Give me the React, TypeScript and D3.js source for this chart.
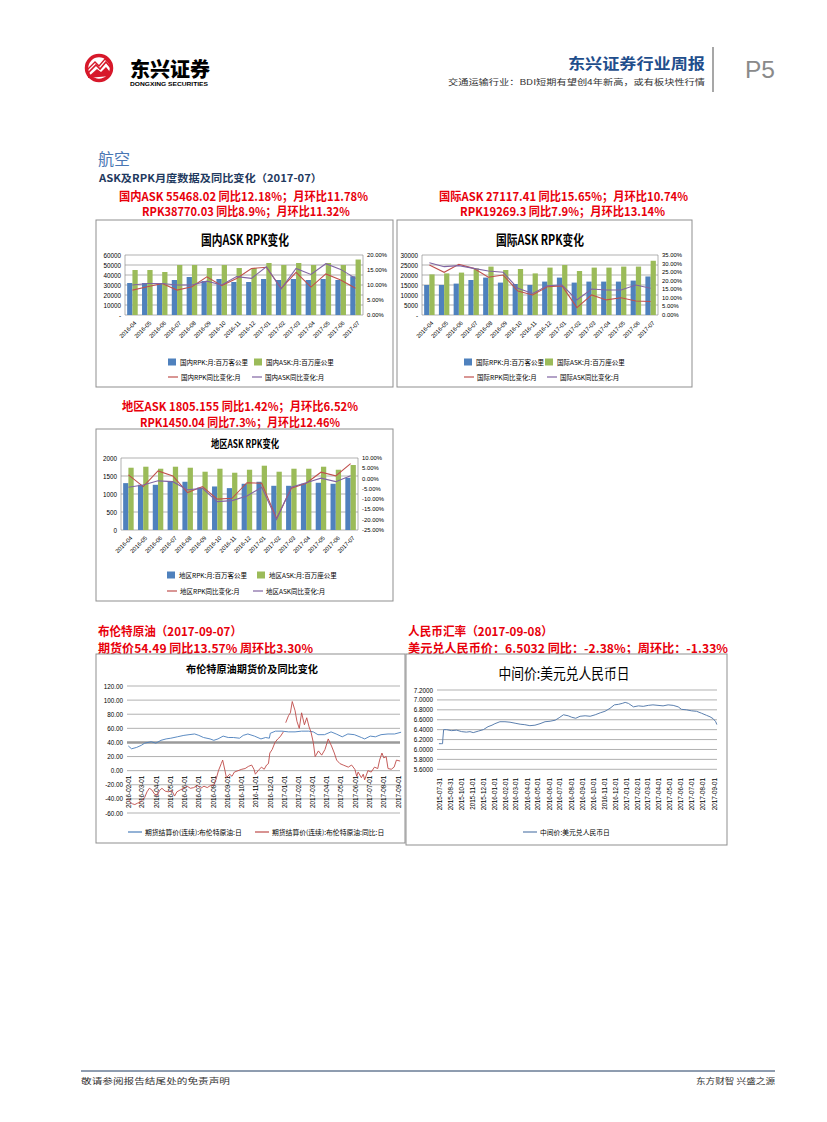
import React from 'react';
import * as d3 from 'd3';

// ---------- data ----------
const months = ['2016-04','2016-05','2016-06','2016-07','2016-08','2016-09','2016-10','2016-11','2016-12','2017-01','2017-02','2017-03','2017-04','2017-05','2017-06','2017-07'];

const domRpk = [32000,32000,32000,35000,38000,34000,36000,33000,33000,36000,35000,36000,35000,36000,35000,38770];
const domAsk = [45000,45000,43000,50000,50000,47000,50000,47000,47000,52000,50000,52000,50000,52000,50000,55468];
const domRpkYoy = [8.3,9.4,10.5,8.3,9.4,12.7,9.8,12.2,15.5,15.9,8.9,14.2,9.3,13.7,11.7,8.9];
const domAskYoy = [10.0,10.5,10.5,10.0,10.0,11.3,10.0,12.8,12.2,16.1,8.7,15.5,13.5,17.1,15.2,12.2];

const intlRpk = [15000,15000,15700,17500,18700,16200,15500,15000,16700,18700,16200,16700,16700,16700,17200,19269];
const intlAsk = [20300,20800,21200,23300,24200,22500,23000,20800,23700,25000,22000,23700,23700,24200,24200,27117];
const intlRpkYoy = [29.2,24.9,29.6,27.2,22.0,23.3,14.0,11.7,16.5,17.0,4.3,11.7,8.8,10.1,8.2,7.9];
const intlAskYoy = [30.5,28.2,28.8,27.2,25.7,24.9,15.6,12.6,17.1,17.5,8.8,15.2,14.6,14.6,17.5,15.65];

const regRpk = [1302,1256,1256,1349,1340,1181,1209,1163,1284,1340,1228,1228,1284,1312,1284,1450];
const regAsk = [1730,1758,1702,1758,1730,1619,1702,1591,1674,1786,1619,1702,1702,1758,1674,1805];
const regRpkYoy = [1.8,-3.9,3.7,1.3,-6.8,-3.9,-10.0,-9.6,-2.0,-2.3,-19.4,-4.7,-2.3,3.1,1.3,7.3];
const regAskYoy = [-4.2,-3.1,-1.1,-1.5,-5.5,-4.7,-11.2,-10.7,-8.5,-4.2,-19.9,-4.2,-2.0,0.2,-1.5,1.42];

const brentPrice: [string, number][] = [
  ['2016-02-01',35],['2016-02-08',31],['2016-02-19',33],['2016-02-29',36],['2016-03-07',39],['2016-03-21',41],
  ['2016-03-31',39],['2016-04-11',43],['2016-04-22',45],['2016-05-02',46],['2016-05-16',48],['2016-05-30',50],
  ['2016-06-10',51],['2016-06-22',52],['2016-07-01',50],['2016-07-11',47],['2016-07-25',45],['2016-08-02',43],
  ['2016-08-11',45],['2016-08-22',49],['2016-09-02',47],['2016-09-13',47],['2016-09-26',46],['2016-10-04',50],
  ['2016-10-14',52],['2016-10-28',49],['2016-11-11',45],['2016-11-21',47],['2016-11-29',46],['2016-12-01',53],
  ['2016-12-12',56],['2016-12-26',56],['2017-01-09',55],['2017-01-23',55],['2017-02-06',56],['2017-02-21',56],
  ['2017-03-03',55],['2017-03-13',51],['2017-03-27',51],['2017-04-10',55],['2017-04-21',52],['2017-05-04',48],
  ['2017-05-16',52],['2017-05-30',51],['2017-06-14',47],['2017-06-21',45],['2017-07-03',49],['2017-07-14',48],
  ['2017-07-26',51],['2017-08-10',52],['2017-08-24',52],['2017-09-07',54.49]
];

const brentYoy: [string, number | null][] = [
  ['2016-02-01',-40],['2016-02-05',-45],['2016-02-10',-47],['2016-02-15',-48],['2016-02-21',-46],['2016-02-26',-45],
  ['2016-03-02',-42],['2016-03-07',-38],['2016-03-12',-30],['2016-03-17',-25],['2016-03-22',-27],['2016-03-28',-33],
  ['2016-04-03',-35],['2016-04-08',-28],['2016-04-13',-25],['2016-04-20',-29],['2016-04-27',-30],['2016-05-04',-28],
  ['2016-05-10',-36],['2016-05-15',-30],['2016-05-23',-27],['2016-05-30',-25],['2016-06-06',-22],['2016-06-13',-25],
  ['2016-06-20',-24],['2016-06-28',-21],['2016-07-05',-25],['2016-07-12',-22],['2016-07-19',-24],['2016-07-26',-21],
  ['2016-08-02',-20],['2016-08-07',-12],['2016-08-12',0],['2016-08-18',10],['2016-08-21',15],['2016-08-26',0],
  ['2016-08-29',-10],['2016-09-05',-5],['2016-09-10',-8],['2016-09-15',-2],['2016-09-23',0],['2016-10-01',2],
  ['2016-10-08',3],['2016-10-15',6],['2016-10-22',8],['2016-10-27',2],['2016-10-30',-5],['2016-11-05',0],
  ['2016-11-12',5],['2016-11-18',2],['2016-11-23',8],['2016-11-27',10],['2016-11-30',25],['2016-12-05',30],
  ['2016-12-11',40],['2016-12-17',45],['2016-12-22',48],['2016-12-29',55],['2016-12-31',null],['2017-01-03',68],
  ['2017-01-09',78],['2017-01-13',82],['2017-01-17',98],['2017-01-23',85],['2017-01-27',70],['2017-02-01',60],
  ['2017-02-06',82],['2017-02-12',65],['2017-02-17',75],['2017-02-22',62],['2017-02-26',55],['2017-03-03',40],
  ['2017-03-07',20],['2017-03-14',28],['2017-03-21',22],['2017-03-28',30],['2017-04-04',45],['2017-04-11',35],
  ['2017-04-17',25],['2017-04-22',15],['2017-04-29',10],['2017-05-06',8],['2017-05-17',5],['2017-05-24',8],
  ['2017-05-31',2],['2017-06-04',-8],['2017-06-07',-2],['2017-06-14',-10],['2017-06-18',-5],['2017-06-21',-13],
  ['2017-06-28',0],['2017-07-05',-2],['2017-07-12',5],['2017-07-19',3],['2017-07-23',15],['2017-07-28',25],
  ['2017-08-01',18],['2017-08-06',20],['2017-08-10',3],['2017-08-17',2],['2017-08-23',5],['2017-08-28',15],
  ['2017-09-05',13.57]
];

const brentTickLabels = ['2016-02-01','2016-03-01','2016-04-01','2016-05-01','2016-06-01','2016-07-01','2016-08-01','2016-09-01','2016-10-01','2016-11-01','2016-12-01','2017-01-01','2017-02-01','2017-03-01','2017-04-01','2017-05-01','2017-06-01','2017-07-01','2017-08-01','2017-09-01'];
const brentYTicks = [120,100,80,60,40,20,0,-20,-40,-60];

const rmbMid: [string, number][] = [
  ['2015-07-31',6.117],['2015-08-08',6.117],['2015-08-10',6.117],['2015-08-11',6.23],['2015-08-13',6.40],['2015-08-21',6.40],
  ['2015-09-04',6.38],['2015-09-18',6.39],['2015-10-02',6.36],['2015-10-15',6.35],['2015-10-25',6.36],['2015-11-03',6.34],
  ['2015-11-17',6.37],['2015-12-01',6.40],['2015-12-14',6.46],['2015-12-25',6.49],['2016-01-02',6.52],['2016-01-16',6.56],
  ['2016-01-30',6.56],['2016-02-13',6.55],['2016-02-27',6.53],['2016-03-12',6.51],['2016-03-25',6.50],['2016-04-08',6.48],
  ['2016-04-22',6.49],['2016-05-06',6.52],['2016-05-20',6.56],['2016-06-03',6.57],['2016-06-17',6.59],['2016-06-28',6.64],
  ['2016-07-10',6.70],['2016-07-23',6.68],['2016-08-02',6.65],['2016-08-13',6.63],['2016-08-25',6.67],['2016-09-08',6.68],
  ['2016-09-22',6.67],['2016-10-06',6.70],['2016-10-20',6.74],['2016-11-02',6.77],['2016-11-16',6.83],['2016-11-28',6.90],
  ['2016-12-09',6.91],['2016-12-20',6.93],['2016-12-28',6.95],['2017-01-06',6.93],['2017-01-20',6.86],['2017-02-03',6.88],
  ['2017-02-16',6.87],['2017-03-02',6.89],['2017-03-15',6.90],['2017-03-29',6.89],['2017-04-12',6.88],['2017-04-26',6.90],
  ['2017-05-10',6.89],['2017-05-24',6.86],['2017-06-02',6.81],['2017-06-16',6.80],['2017-06-30',6.78],['2017-07-14',6.77],
  ['2017-07-28',6.73],['2017-08-10',6.69],['2017-08-20',6.66],['2017-08-29',6.62],['2017-09-05',6.56],['2017-09-08',6.5032]
];

const rmbTickLabels = ['2015-07-31','2015-08-31','2015-10-01','2015-11-01','2015-12-01','2016-01-01','2016-02-01','2016-03-01','2016-04-01','2016-05-01','2016-06-01','2016-07-01','2016-08-01','2016-09-01','2016-10-01','2016-11-01','2016-12-01','2017-01-01','2017-02-01','2017-03-01','2017-04-01','2017-05-01','2017-06-01','2017-07-01','2017-08-01','2017-09-01'];
const rmbYTicks = [7.2,7.0,6.8,6.6,6.4,6.2,6.0,5.8,5.6];

// ---------- styles ----------
const CJK = '"Noto Sans CJK SC","Noto Sans",sans-serif';
const NUM = '"Liberation Sans",Arial,sans-serif';
const C = {
  blue: '#4f81bd', green: '#9bbb59', red: '#c0504d', purple: '#8064a2',
  grid: '#8f8f8f', border: '#8f8f8f', redText: '#e8000b'
};
const parse = d3.timeParse('%Y-%m-%d');

type ComboCfg = {
  box: [number, number, number, number];
  title: string; titleX: number; titleY: number; titleSize: number; titleLen: number;
  plot: { l: number; r: number; t: number; b: number };
  leftMax: number; leftStep: number; zeroLabel: string;
  rightDom: [number, number]; rightStep: number;
  rpk: number[]; ask: number[]; rpkYoy: number[]; askYoy: number[];
  legend: string[]; legX1: [number, number]; legX2: [number, number]; legY: [number, number];
  xlabOff: [number, number];
};

function Combo({ cfg }: { cfg: ComboCfg }) {
  const { l, r, t, b } = cfg.plot;
  const x = d3.scaleBand<string>().domain(months).range([l, r]).paddingInner(0.29).paddingOuter(0.145);
  const bw = x.bandwidth();
  const yL = d3.scaleLinear().domain([0, cfg.leftMax]).range([b, t]);
  const yR = d3.scaleLinear().domain(cfg.rightDom).range([b, t]);
  const leftTicks = d3.range(0, cfg.leftMax + 1e-9, cfg.leftStep);
  const rightTicks = d3.range(cfg.rightDom[0], cfg.rightDom[1] + 1e-9, cfg.rightStep);
  const cx = (i: number) => (x(months[i]) as number) + bw / 2;
  const line = d3.line<number>().x((_, i) => cx(i)).y(v => yR(v));
  const [bx0, by0, bx1, by1] = cfg.box;
  return (
    <g>
      <rect x={bx0} y={by0} width={bx1 - bx0} height={by1 - by0} fill="#fff" stroke={C.border} strokeWidth={1} />
      <text x={cfg.titleX} y={cfg.titleY} textAnchor="middle" dominantBaseline="central" fontFamily={CJK}
        fontWeight={700} fontSize={cfg.titleSize} textLength={cfg.titleLen} lengthAdjust="spacingAndGlyphs">{cfg.title}</text>
      {leftTicks.map(v => (
        <line key={'g' + v} x1={l} x2={r} y1={yL(v)} y2={yL(v)} stroke={C.grid} strokeWidth={0.7} />
      ))}
      <line x1={l} x2={l} y1={t} y2={b} stroke={C.grid} strokeWidth={0.7} />
      <line x1={r} x2={r} y1={t} y2={b} stroke={C.grid} strokeWidth={0.7} />
      {leftTicks.map(v => (
        <text key={'lt' + v} x={l - 4} y={yL(v)} textAnchor="end" dominantBaseline="central" fontFamily={NUM} fontSize={6.3}>
          {v === 0 ? cfg.zeroLabel : String(v)}
        </text>
      ))}
      {rightTicks.map(v => (
        <text key={'rt' + v} x={r + 4} y={yR(v)} textAnchor="start" dominantBaseline="central" fontFamily={NUM} fontSize={5.9}>
          {v.toFixed(2) + '%'}
        </text>
      ))}
      {months.map((m, i) => (
        <g key={m}>
          <rect x={x(m) as number} y={yL(cfg.rpk[i])} width={bw / 2} height={b - yL(cfg.rpk[i])} fill={C.blue} />
          <rect x={(x(m) as number) + bw / 2} y={yL(cfg.ask[i])} width={bw / 2} height={b - yL(cfg.ask[i])} fill={C.green} />
          <text transform={`translate(${cx(i) + cfg.xlabOff[0]},${b + cfg.xlabOff[1]}) rotate(-45)`} textAnchor="end"
            dominantBaseline="central" fontFamily={NUM} fontSize={5.8}>{m}</text>
        </g>
      ))}
      <path d={line(cfg.rpkYoy) || ''} fill="none" stroke={C.red} strokeWidth={1.1} />
      <path d={line(cfg.askYoy) || ''} fill="none" stroke={C.purple} strokeWidth={1.1} />
      {/* legend */}
      <rect x={cfg.legX1[0]} y={cfg.legY[0] - 3.5} width={8} height={7} fill={C.blue} />
      <text x={cfg.legX1[0] + 12} y={cfg.legY[0]} dominantBaseline="central" fontFamily={CJK} fontSize={6.5}>{cfg.legend[0]}</text>
      <rect x={cfg.legX1[1]} y={cfg.legY[0] - 3.5} width={8} height={7} fill={C.green} />
      <text x={cfg.legX1[1] + 12} y={cfg.legY[0]} dominantBaseline="central" fontFamily={CJK} fontSize={6.5}>{cfg.legend[1]}</text>
      <line x1={cfg.legX2[0]} x2={cfg.legX2[0] + 10} y1={cfg.legY[1]} y2={cfg.legY[1]} stroke={C.red} strokeWidth={1.2} />
      <text x={cfg.legX2[0] + 13} y={cfg.legY[1]} dominantBaseline="central" fontFamily={CJK} fontSize={6.5}>{cfg.legend[2]}</text>
      <line x1={cfg.legX2[1]} x2={cfg.legX2[1] + 10} y1={cfg.legY[1]} y2={cfg.legY[1]} stroke={C.purple} strokeWidth={1.2} />
      <text x={cfg.legX2[1] + 13} y={cfg.legY[1]} dominantBaseline="central" fontFamily={CJK} fontSize={6.5}>{cfg.legend[3]}</text>
    </g>
  );
}

const cfgDom: ComboCfg = {
  box: [96, 220, 393, 387], title: '国内ASK RPK变化', titleX: 245, titleY: 239, titleSize: 14, titleLen: 88,
  plot: { l: 125, r: 363, t: 255, b: 315 }, leftMax: 60000, leftStep: 10000, zeroLabel: '-',
  rightDom: [0, 20], rightStep: 5, rpk: domRpk, ask: domAsk, rpkYoy: domRpkYoy, askYoy: domAskYoy,
  legend: ['国内RPK:月:百万客公里', '国内ASK:月:百万座公里', '国内RPK同比变化:月', '国内ASK同比变化:月'],
  legX1: [168, 254], legX2: [168, 252], legY: [362, 377], xlabOff: [3, 7]
};
const cfgIntl: ComboCfg = {
  box: [397, 220, 692, 387], title: '国际ASK RPK变化', titleX: 540, titleY: 239, titleSize: 14, titleLen: 88,
  plot: { l: 422, r: 658, t: 255, b: 315 }, leftMax: 30000, leftStep: 5000, zeroLabel: '-',
  rightDom: [0, 35], rightStep: 5, rpk: intlRpk, ask: intlAsk, rpkYoy: intlRpkYoy, askYoy: intlAskYoy,
  legend: ['国际RPK:月:百万客公里', '国际ASK:月:百万座公里', '国际RPK同比变化:月', '国际ASK同比变化:月'],
  legX1: [464, 545], legX2: [464, 547], legY: [362, 377], xlabOff: [3, 7]
};
const cfgReg: ComboCfg = {
  box: [96, 429, 393, 601], title: '地区ASK RPK变化', titleX: 245, titleY: 443, titleSize: 11, titleLen: 68,
  plot: { l: 121, r: 358, t: 458, b: 530 }, leftMax: 2000, leftStep: 500, zeroLabel: '0',
  rightDom: [-25, 10], rightStep: 5, rpk: regRpk, ask: regAsk, rpkYoy: regRpkYoy, askYoy: regAskYoy,
  legend: ['地区RPK:月:百万客公里', '地区ASK:月:百万座公里', '地区RPK同比变化:月', '地区ASK同比变化:月'],
  legX1: [167, 257], legX2: [167, 253], legY: [575, 591], xlabOff: [3, 7]
};

function RedText({ x, y, len, children, anchor = 'start' }: { x: number; y: number; len: number; children: string; anchor?: string }) {
  return (
    <text x={x} y={y} textAnchor={anchor} dominantBaseline="central" fontFamily={CJK} fontWeight={700} fontSize={12}
      fill={C.redText} textLength={len} lengthAdjust="spacingAndGlyphs">{children}</text>
  );
}

function Brent() {
  const l = 127, r = 400;
  const x = d3.scaleTime().domain([parse('2016-02-01') as Date, parse('2017-09-01') as Date]).range([128.3, 398.3]);
  const y = d3.scaleLinear().domain([-60, 120]).range([813, 686]);
  const priceLine = d3.line<[string, number]>().x(d => x(parse(d[0]) as Date)).y(d => y(d[1]));
  const yoyLine = d3.line<[string, number | null]>().defined(d => d[1] !== null)
    .x(d => x(parse(d[0]) as Date)).y(d => y(d[1] as number));
  return (
    <g>
      <rect x={96} y={654} width={309} height={189} fill="#fff" stroke={C.border} strokeWidth={1} />
      <text x={252} y={668} textAnchor="middle" dominantBaseline="central" fontFamily={CJK} fontWeight={700}
        fontSize={10.5} textLength={132} lengthAdjust="spacingAndGlyphs">布伦特原油期货价及同比变化</text>
      {brentYTicks.map(v => (
        <g key={v}>
          <line x1={l} x2={r} y1={y(v)} y2={y(v)} stroke={v === 40 ? '#9a9a9a' : C.grid}
            strokeWidth={v === 40 ? 2.6 : 0.7} />
          <text x={123} y={y(v)} textAnchor="end" dominantBaseline="central" fontFamily={NUM} fontSize={6.3}>{v.toFixed(2)}</text>
        </g>
      ))}
      {brentTickLabels.map(s => (
        <text key={s} transform={`translate(${x(parse(s) as Date) + 2.2},${y(0) + 5}) rotate(-90)`} textAnchor="end"
          fontFamily={NUM} fontSize={6.3}>{s}</text>
      ))}
      <path d={priceLine(brentPrice) || ''} fill="none" stroke="#4a7ebb" strokeWidth={0.9} />
      <path d={yoyLine(brentYoy) || ''} fill="none" stroke="#be4b48" strokeWidth={0.9} />
      <line x1={128} x2={142} y1={832} y2={832} stroke="#4a7ebb" strokeWidth={1.2} />
      <text x={145} y={832} dominantBaseline="central" fontFamily={CJK} fontSize={6.8}>期货结算价(连续):布伦特原油:日</text>
      <line x1={255} x2={269} y1={832} y2={832} stroke="#be4b48" strokeWidth={1.2} />
      <text x={272} y={832} dominantBaseline="central" fontFamily={CJK} fontSize={6.8}>期货结算价(连续):布伦特原油:同比:日</text>
    </g>
  );
}

function Rmb() {
  const l = 437, r = 717;
  const x = d3.scaleTime().domain([parse('2015-08-01') as Date, parse('2017-09-01') as Date]).range([439.3, 714.3]);
  const y = d3.scaleLinear().domain([5.6, 7.2]).range([769.3, 690]);
  const line = d3.line<[string, number]>().x(d => x(parse(d[0]) as Date)).y(d => y(d[1]));
  const tickDate = (i: number) => d3.timeMonth.offset(parse('2015-08-01') as Date, i);
  return (
    <g>
      <rect x={406} y={654} width={321} height={191} fill="#fff" stroke={C.border} strokeWidth={1} />
      <text x={564} y={672} textAnchor="middle" dominantBaseline="central" fontFamily={CJK}
        fontSize={15} textLength={131} lengthAdjust="spacingAndGlyphs">中间价:美元兑人民币日</text>
      {rmbYTicks.map(v => (
        <g key={v}>
          <line x1={l} x2={r} y1={y(v)} y2={y(v)} stroke={C.grid} strokeWidth={0.7} />
          <text x={433} y={y(v)} textAnchor="end" dominantBaseline="central" fontFamily={NUM} fontSize={6.3}>{v.toFixed(4)}</text>
        </g>
      ))}
      {rmbTickLabels.map((s, i) => (
        <text key={s} transform={`translate(${x(tickDate(i)) + 2.2},${778}) rotate(-90)`} textAnchor="end"
          fontFamily={NUM} fontSize={6.3}>{s}</text>
      ))}
      <path d={line(rmbMid) || ''} fill="none" stroke="#5b7fae" strokeWidth={1} />
      <line x1={523} x2={537} y1={832} y2={832} stroke="#5b7fae" strokeWidth={1.2} />
      <text x={540} y={832} dominantBaseline="central" fontFamily={CJK} fontSize={6.8}>中间价:美元兑人民币日</text>
    </g>
  );
}

function Header() {
  return (
    <g>
      {/* logo */}
      <circle cx={99} cy={68} r={12.5} fill="#fff" stroke="#d7182a" strokeWidth={3.5} />
      <path d="M87,74 L96,65 L100,69 L106,62 L111,68" fill="none" stroke="#d7182a" strokeWidth={1.6} />
      <path d="M87,70 L95,62 L99,66 L105,59 L110,64" fill="none" stroke="#d7182a" strokeWidth={1.4} />
      <path d="M88,77 L97,69 L101,72 L106,67 L110,72 L110,76 L88,78 Z" fill="#d7182a" />
      <text x={130} y={68} dominantBaseline="central" fontFamily={CJK} fontWeight={900} fontSize={20}
        textLength={80} lengthAdjust="spacingAndGlyphs">东兴证券</text>
      <text x={130} y={84} dominantBaseline="central" fontFamily={NUM} fontWeight={700} fontSize={5.8}
        textLength={78} lengthAdjust="spacingAndGlyphs">DONGXING SECURITIES</text>
      {/* right */}
      <text x={705} y={62} textAnchor="end" dominantBaseline="central" fontFamily={CJK} fontWeight={700} fontSize={15}
        fill="#1f4e8c" textLength={137} lengthAdjust="spacingAndGlyphs">东兴证券行业周报</text>
      <text x={705} y={81.5} textAnchor="end" dominantBaseline="central" fontFamily={CJK} fontSize={8}
        fill="#333" textLength={257} lengthAdjust="spacingAndGlyphs">交通运输行业：BDI短期有望创4年新高，或有板块性行情</text>
      <line x1={713} x2={713} y1={47} y2={92} stroke="#8a8a8a" strokeWidth={1.5} />
      <text x={745} y={69} dominantBaseline="central" fontFamily={NUM} fontSize={24} fill="#8a8a8a"
        textLength={30} lengthAdjust="spacingAndGlyphs">P5</text>
    </g>
  );
}

export default function App() {
  return (
    <svg width={827} height={1122} viewBox="0 0 827 1122" style={{ position: 'absolute', left: 0, top: 0 }}
      xmlns="http://www.w3.org/2000/svg">
      <rect width={827} height={1122} fill="#fff" />
      <Header />
      <text x={98} y={158} dominantBaseline="central" fontFamily={CJK} fontSize={16} fill="#4a77b4">航空</text>
      <text x={99} y={177} dominantBaseline="central" fontFamily={CJK} fontWeight={700} fontSize={10.5} fill="#1f3a60"
        textLength={223} lengthAdjust="spacingAndGlyphs">ASK及RPK月度数据及同比变化（2017-07）</text>
      <RedText x={119} y={195} len={249}>国内ASK 55468.02 同比12.18%；月环比11.78%</RedText>
      <RedText x={142} y={210} len={208}>RPK38770.03 同比8.9%；月环比11.32%</RedText>
      <RedText x={439} y={195} len={249}>国际ASK 27117.41 同比15.65%；月环比10.74%</RedText>
      <RedText x={460} y={210} len={205}>RPK19269.3 同比7.9%；月环比13.14%</RedText>
      <Combo cfg={cfgDom} />
      <Combo cfg={cfgIntl} />
      <RedText x={122} y={405} len={236}>地区ASK 1805.155 同比1.42%；月环比6.52%</RedText>
      <RedText x={140} y={421} len={200}>RPK1450.04 同比7.3%；月环比12.46%</RedText>
      <Combo cfg={cfgReg} />
      <RedText x={98} y={630} len={144}>布伦特原油（2017-09-07）</RedText>
      <RedText x={98} y={647} len={215}>期货价54.49 同比13.57% 周环比3.30%</RedText>
      <RedText x={408} y={630} len={145}>人民币汇率（2017-09-08）</RedText>
      <RedText x={408} y={647} len={320}>美元兑人民币价：6.5032 同比：-2.38%；周环比：-1.33%</RedText>
      <Brent />
      <Rmb />
      {/* footer */}
      <line x1={81} x2={775} y1={1071} y2={1071} stroke="#1f3a60" strokeWidth={1} />
      <text x={81} y={1080} dominantBaseline="central" fontFamily={CJK} fontSize={7.5} fill="#333"
        textLength={149} lengthAdjust="spacingAndGlyphs">敬请参阅报告结尾处的免责声明</text>
      <text x={775} y={1080} textAnchor="end" dominantBaseline="central" fontFamily={CJK} fontSize={7.5} fill="#333"
        textLength={79} lengthAdjust="spacingAndGlyphs">东方财智 兴盛之源</text>
    </svg>
  );
}
